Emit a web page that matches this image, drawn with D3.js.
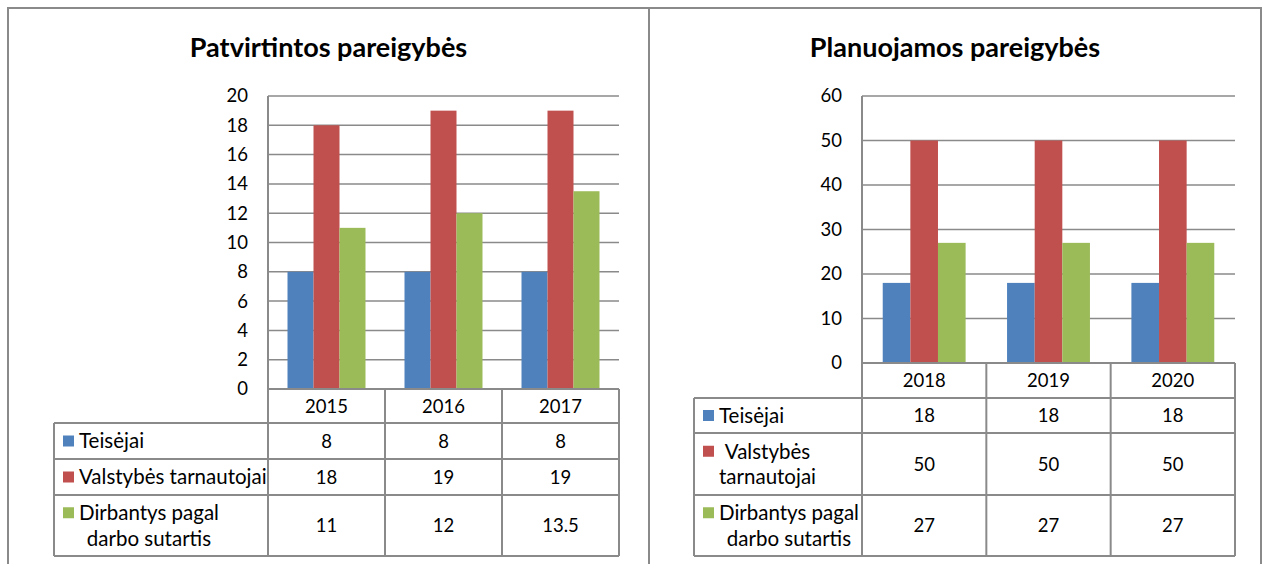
<!DOCTYPE html>
<html>
<head>
<meta charset="utf-8">
<script src="https://cdn.jsdelivr.net/npm/d3@7"></script>
<style>
  body { margin: 0; background: #fff; }
  svg text { font-family: Lato, "Open Sans", sans-serif; fill: #000; }
</style>
</head>
<body>
<svg id="g1" width="1267" height="564"></svg>
<script>
// series shared by both panels
const seriesNames = ["Teisėjai", "Valstybės tarnautojai", "Dirbantys pagal darbo sutartis"];
const seriesColors = ["#4F81BD", "#C0504D", "#9BBB59"];

// left panel
const leftTitle = "Patvirtintos pareigybės";
const leftYears = ["2015", "2016", "2017"];
const leftJudges = [8, 8, 8];
const leftCivil = [18, 19, 19];
const leftContract = [11, 12, 13.5];
const leftTicks = [0, 2, 4, 6, 8, 10, 12, 14, 16, 18, 20];
const leftLabels = [["Teisėjai"], ["Valstybės tarnautojai"], ["Dirbantys pagal", "darbo sutartis"]];

// right panel
const rightTitle = "Planuojamos pareigybės";
const rightYears = ["2018", "2019", "2020"];
const rightJudges = [18, 18, 18];
const rightCivil = [50, 50, 50];
const rightContract = [27, 27, 27];
const rightTicks = [0, 10, 20, 30, 40, 50, 60];
const rightLabels = [["Teisėjai"], ["Valstybės", "tarnautojai"], ["Dirbantys pagal", "darbo sutartis"]];

const lineColor = "#8a8a8a";
const numSize = 18.5, labelSize = 20.5;
const svg = d3.select("#g1");

// panel frames
svg.append("path")
    .attr("d", "M8,600 V8 H1261 V600 M649,8 V600")
    .attr("fill", "none")
    .attr("stroke", lineColor)
    .attr("stroke-width", 2);

function drawPanel(cfg) {
    const g = svg.append("g");
    const values = [cfg.judges, cfg.civil, cfg.contract];

    g.append("text")
        .attr("x", (cfg.panelLeft + cfg.panelRight) / 2)
        .attr("y", 57)
        .attr("text-anchor", "middle")
        .attr("font-size", 27)
        .attr("font-weight", "bold")
        .text(cfg.title);

    const x = d3.scaleBand().domain(cfg.years).range([cfg.left, cfg.right]);
    const bw = x.bandwidth();
    const xs = d3.scaleBand().domain(d3.range(3)).range([bw / 6, bw * 5 / 6]);
    const y = d3.scaleLinear()
        .domain([0, d3.max(cfg.ticks)])
        .range([cfg.bottom, cfg.top]);

    // gridlines + tick labels
    const yAxis = g.append("g")
        .attr("transform", "translate(" + cfg.left + ",0)")
        .call(d3.axisLeft(y).tickValues(cfg.ticks).tickSize(0).tickPadding(20));
    yAxis.select(".domain").remove();
    yAxis.selectAll("text")
        .attr("font-size", numSize)
        .attr("font-family", "Lato, sans-serif")
        .attr("fill", "#000");
    g.append("g").selectAll("line")
        .data(cfg.ticks)
        .join("line")
        .attr("x1", cfg.left)
        .attr("x2", cfg.right)
        .attr("y1", d => y(d))
        .attr("y2", d => y(d))
        .attr("stroke", lineColor)
        .attr("stroke-width", 1.5);

    // bars
    cfg.years.forEach((yr, i) => {
        values.forEach((vals, s) => {
            g.append("rect")
                .attr("x", x(yr) + xs(s))
                .attr("y", y(vals[i]))
                .attr("width", xs.bandwidth())
                .attr("height", y(0) - y(vals[i]))
                .attr("fill", seriesColors[s]);
        });
    });

    // data table
    const rows = cfg.rowBottoms;
    const tbl = g.append("g")
        .attr("fill", "none")
        .attr("stroke", lineColor)
        .attr("stroke-width", 2);
    // y axis continued down as first column separator
    tbl.append("line")
        .attr("x1", cfg.left).attr("x2", cfg.left)
        .attr("y1", cfg.top).attr("y2", rows[3]);
    cfg.years.forEach(yr => {
        tbl.append("line")
            .attr("x1", x(yr) + bw).attr("x2", x(yr) + bw)
            .attr("y1", cfg.bottom).attr("y2", rows[3]);
    });
    tbl.append("line")
        .attr("x1", cfg.left).attr("x2", cfg.right)
        .attr("y1", cfg.bottom).attr("y2", cfg.bottom);
    rows.forEach(r => {
        tbl.append("line")
            .attr("x1", cfg.tableLeft).attr("x2", cfg.right)
            .attr("y1", r).attr("y2", r);
    });
    tbl.append("line")
        .attr("x1", cfg.tableLeft).attr("x2", cfg.tableLeft)
        .attr("y1", rows[0]).attr("y2", rows[3]);

    // header years
    g.selectAll(".yr")
        .data(cfg.years)
        .join("text")
        .attr("x", d => x(d) + bw / 2)
        .attr("y", (cfg.bottom + rows[0]) / 2)
        .attr("dy", "0.36em")
        .attr("text-anchor", "middle")
        .attr("font-size", numSize)
        .text(d => d);

    // rows
    values.forEach((vals, s) => {
        const top = rows[s], bot = rows[s + 1];
        const mid = (top + bot) / 2;
        const lines = cfg.labels[s];
        const lh = 25.5;
        const firstY = mid - (lines.length - 1) * lh / 2;

        g.append("rect")
            .attr("x", cfg.tableLeft + 9)
            .attr("y", firstY - 5.5)
            .attr("width", 11)
            .attr("height", 11)
            .attr("fill", seriesColors[s]);

        const texts = lines.map((t, k) => g.append("text")
            .attr("y", firstY + k * lh)
            .attr("dy", "0.36em")
            .attr("font-size", labelSize)
            .attr("text-anchor", "middle")
            .text(t));
        const wMax = d3.max(texts, t => t.node().getComputedTextLength());
        texts.forEach(t => t.attr("x", cfg.tableLeft + 25 + wMax / 2));

        cfg.years.forEach((yr, i) => {
            g.append("text")
                .attr("x", x(yr) + bw / 2)
                .attr("y", mid)
                .attr("dy", "0.36em")
                .attr("text-anchor", "middle")
                .attr("font-size", numSize)
                .text(vals[i]);
        });
    });
}

drawPanel({
    title: leftTitle, years: leftYears, ticks: leftTicks, labels: leftLabels,
    judges: leftJudges, civil: leftCivil, contract: leftContract,
    panelLeft: 8, panelRight: 649,
    left: 268, right: 619, top: 96, bottom: 389,
    tableLeft: 54, rowBottoms: [423, 459, 495, 556]
});

drawPanel({
    title: rightTitle, years: rightYears, ticks: rightTicks, labels: rightLabels,
    judges: rightJudges, civil: rightCivil, contract: rightContract,
    panelLeft: 649, panelRight: 1261,
    left: 862, right: 1235, top: 96, bottom: 363,
    tableLeft: 694, rowBottoms: [398, 433, 495, 556]
});
</script>
</body>
</html>
